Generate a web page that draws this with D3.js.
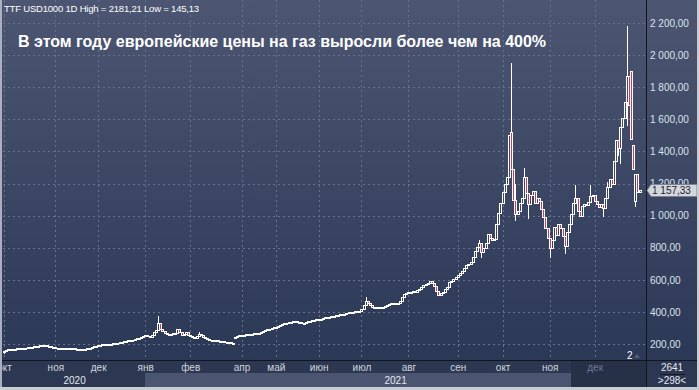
<!DOCTYPE html>
<html>
<head>
<meta charset="utf-8">
<script src="https://cdn.jsdelivr.net/npm/d3@7"></script>
<style>
body { margin: 0; background: #c9ccd1; }
svg { display: block; font-family: "Liberation Sans", Arial, sans-serif; }
</style>
</head>
<body>
<svg id="chart" width="699" height="390"></svg>
<script>
// daily closes, one array per month (TTF, USD1000)
const oct20 = [158,163,166,165,168,171,172,174,176,178,177,180,182,183,186,188,190,193,194,192,190,186,182,179];
const nov20 = [178,178,177,176,176,175,174,173,172,171,170,168,167,166,168,172,177,182,187,190];
const dec20 = [192,195,197,199,200,198,202,205,207,209,214,212,216,219,222,226,224,229,235,240,246,250];
const jan21 = [255,250,244,258,272,285,330,295,280,270,262,258,262,266,270,292,272,258,262,272,258];
const feb21 = [250,245,240,248,265,255,243,238,232,225,222,220,223,219,218,216,214,212,210,209,206];
const mar21 = [246,250,255];
const apr21 = [256,259,262,260,263,265,266,268,270,274,278,285,292,296,300,305];
const may21 = [308,314,318,325,330,332,336,339,342,345,340,334,329,333,338,342,346,350,352,355];
const jun21 = [358,356,362,366,364,370,375,372,378,383,386,384,389,393,398,395,400,404,402,408];
const jul21 = [420,445,470,455,440,432,428,425,428,433,428,436,445,452,455,450,456,458,468,490,512,518];
const aug21 = [522,526,530,527,536,545,556,568,575,582,590,578,560,528,508,515,526,540,557,585,595,605,618];
const sep21 = [628,640,655,672,690,698,710,745,780,806,830,775,800,830,885,862,845,852,950,1015,1080];
const oct21 = [1150,1200,1240,1500,1290,1100,1010,1030,1080,1110,1240,1140,1070,1130,1155,1080,1110,1090,1040,990,920,860];
const nov21 = [800,850,930,880,950,920,870,810,900,950,1010,1080,1110,1030,1000,1060,1075,1065,1085,1120,1130];
const dec21 = [1090,1070,1055,1075,1050,1110,1180,1230,1200,1340,1470,1420,1550,1610,1710,1870,1690,1480,1290,1260,1150,1157.33];

// a day opens where the previous one closed, except these gaps [day, open]
const openGaps = [[0,150],[108,244],[237,1520],[293,1900],[294,1440],[295,1090]];
// wicks that stick out of the body [day, value]
const highWicks = [[72,372],[81,296],[91,272],[169,495],[222,848],[237,1950],[239,1200],[243,1296],[267,1190],[274,1190],[282,1210],[291,2181.21]];
const lowWicks = [[0,145.13],[223,744],[239,972],[245,985],[255,742],[262,767],[280,1000],[287,1380],[288,1330],[291,1565],[295,1060]];

const monthIdx = [0,24,44,66,87,111,127,147,167,189,212,233,255,276];
const monthLabels = ["окт","ноя","дек","янв","фев","апр","май","июн","июл","авг","сен","окт","ноя","дек"];
const yearIdx = [33,183];
const yearLabels = ["2020","2021"];
const priceTicks = [200,400,600,800,1000,1200,1400,1600,1800,2000,2200];

const closes = [].concat(oct20,nov20,dec20,jan21,feb21,mar21,apr21,may21,jun21,jul21,aug21,sep21,oct21,nov21,dec21);
const gapMap = new Map(openGaps), hiMap = new Map(highWicks), loMap = new Map(lowWicks);

const candles = closes.map((c, i) => {
  const o = gapMap.has(i) ? gapMap.get(i) : closes[i - 1];
  const hi = hiMap.has(i) ? hiMap.get(i) : Math.max(o, c);
  const lo = loMap.has(i) ? loMap.get(i) : Math.min(o, c);
  return {i, o, c, hi, lo};
});

const svg = d3.select("#chart");
const plotR = 646, plotB = 360;

const x = d3.scaleLinear().domain([0, closes.length - 1]).range([4, 639.6]);
const y = d3.scaleLinear().domain([200, 2200]).range([344, 23]);
const fmt = d3.formatLocale({decimal: ",", thousands: " ", grouping: [3], currency: ["", ""]}).format(",.2f");

const defs = svg.append("defs");
const grad = defs.append("linearGradient").attr("id", "bg")
  .attr("gradientUnits", "userSpaceOnUse")
  .attr("x1", 0).attr("y1", 0).attr("x2", 0).attr("y2", plotB);
grad.append("stop").attr("offset", 0).attr("stop-color", "#4c5672");
grad.append("stop").attr("offset", 1).attr("stop-color", "#2b3856");
defs.append("clipPath").attr("id", "plotclip")
  .append("rect").attr("x", 3).attr("y", 0).attr("width", plotR - 3).attr("height", plotB);

// panels
svg.append("rect").attr("x", 2).attr("y", 0).attr("width", 695).attr("height", plotB).attr("fill", "url(#bg)");
svg.append("rect").attr("x", 2).attr("y", 361).attr("width", 695).attr("height", 26).attr("fill", "#2c3751");
svg.append("rect").attr("x", Math.round(x(66))).attr("y", 373).attr("width", plotR - Math.round(x(66))).attr("height", 14).attr("fill", "#4a5571");
svg.append("rect").attr("x", 571).attr("y", 361).attr("width", plotR - 571).attr("height", 26).attr("fill", "#263047");

// grid
const grid = svg.append("g").attr("clip-path", "url(#plotclip)");
grid.selectAll("line.vg").data(monthIdx).join("line")
  .attr("x1", d => Math.round(x(d)) + 0.5).attr("x2", d => Math.round(x(d)) + 0.5)
  .attr("y1", 0).attr("y2", plotB)
  .attr("stroke", "#66718d").attr("stroke-dasharray", "2,3");
grid.selectAll("line.hg").data(priceTicks).join("line")
  .attr("x1", 3).attr("x2", plotR)
  .attr("y1", d => Math.round(y(d)) + 0.5).attr("y2", d => Math.round(y(d)) + 0.5)
  .attr("stroke", "#66718d").attr("stroke-dasharray", "2,3");

// candles
const g = svg.append("g").attr("clip-path", "url(#plotclip)").attr("shape-rendering", "crispEdges");
const cx = i => Math.round(x(i));

g.selectAll("line.wick").data(candles).join("line")
  .attr("x1", d => cx(d.i) + 0.5).attr("x2", d => cx(d.i) + 0.5)
  .attr("y1", d => Math.round(y(d.hi))).attr("y2", d => Math.round(y(d.lo)) + 1)
  .attr("stroke", "#fff");

g.selectAll("rect.body").data(candles).join("rect")
  .attr("x", d => cx(d.i) - 0.5)
  .attr("y", d => Math.round(y(Math.max(d.o, d.c))) + 0.5)
  .attr("width", 2)
  .attr("height", d => Math.max(1, Math.round(y(Math.min(d.o, d.c))) - Math.round(y(Math.max(d.o, d.c)))))
  .attr("fill", d => d.c < d.o ? "#c43d5c" : "url(#bg)")
  .attr("stroke", "#fff");

// separators
svg.append("line").attr("x1", plotR + 0.5).attr("x2", plotR + 0.5).attr("y1", 0).attr("y2", 387).attr("stroke", "#11151d");
svg.append("line").attr("x1", 2).attr("x2", 697).attr("y1", plotB + 0.5).attr("y2", plotB + 0.5).attr("stroke", "#11151d");

// header and title
svg.append("text").attr("x", 4).attr("y", 12)
  .attr("fill", "#ffffff").style("font-size", "9.5px").style("letter-spacing", "-0.2px")
  .text("TTF USD1000 1D High = 2181,21 Low = 145,13");
svg.append("text").attr("x", 18).attr("y", 47)
  .attr("fill", "#ffffff").style("font-size", "16px").style("font-weight", "bold")
  .text("В этом году европейские цены на газ выросли более чем на 400%");

// price axis
const yAxis = svg.append("g").attr("transform", `translate(${plotR},0)`)
  .call(d3.axisRight(y).tickValues(priceTicks).tickFormat(fmt).tickSize(0).tickPadding(4));
yAxis.select(".domain").remove();
yAxis.selectAll("text").attr("fill", "#dde2ea").style("font-size", "10px")
  .style("font-family", "\"Liberation Sans\", Arial, sans-serif");

// last price tag
const last = closes[closes.length - 1];
const ly = Math.round(y(last));
svg.append("path")
  .attr("d", `M${plotR + 1},${ly + 0.5} L${plotR + 5},${ly - 5.5} L697,${ly - 5.5} L697,${ly + 6.5} L${plotR + 5},${ly + 6.5} Z`)
  .attr("fill", "#d3d6dc").attr("stroke", "#7d8291");
svg.append("text").attr("x", 652).attr("y", ly + 4)
  .attr("fill", "#1c2130").style("font-size", "10px").text(fmt(last));

// time axis
const xAxis = svg.append("g").attr("transform", `translate(0,${plotB})`)
  .call(d3.axisBottom(x).tickValues(monthIdx).tickFormat((d, i) => monthLabels[i]).tickSize(0).tickPadding(4));
xAxis.select(".domain").remove();
xAxis.selectAll("text")
  .attr("fill", (d, i) => i === monthIdx.length - 1 ? "#6f7a93" : "#cfd5df")
  .style("font-size", "10px")
  .style("font-family", "\"Liberation Sans\", Arial, sans-serif");

svg.selectAll("text.year").data(yearLabels).join("text")
  .attr("class", "year")
  .attr("x", (d, i) => x(yearIdx[i])).attr("y", 384)
  .attr("text-anchor", "middle").attr("fill", "#e4e8ef").style("font-size", "10px")
  .text(d => d);

// corner counters
svg.append("text").attr("x", 672).attr("y", 371).attr("text-anchor", "middle")
  .attr("fill", "#e4e8ef").style("font-size", "10px").text("2641");
svg.append("line").attr("x1", 660).attr("x2", 685).attr("y1", 374.5).attr("y2", 374.5).attr("stroke", "#151a24");
svg.append("text").attr("x", 672).attr("y", 384).attr("text-anchor", "middle")
  .attr("fill", "#e4e8ef").style("font-size", "10px").text(">298<");

// marker near the bottom
svg.append("text").attr("x", 627).attr("y", 359).attr("fill", "#ffffff").style("font-size", "10px").text("2");
svg.append("path").attr("d", "M634,358 L637,354 L640,358 Z").attr("fill", "#56617c");

// window frame
svg.append("rect").attr("x", 0).attr("y", 0).attr("width", 2).attr("height", 390).attr("fill", "#a9b0bf");
svg.append("rect").attr("x", 697).attr("y", 0).attr("width", 2).attr("height", 390).attr("fill", "#c9ccd1");
svg.append("rect").attr("x", 0).attr("y", 387).attr("width", 699).attr("height", 3).attr("fill", "#c9ccd1");
</script>
</body>
</html>
